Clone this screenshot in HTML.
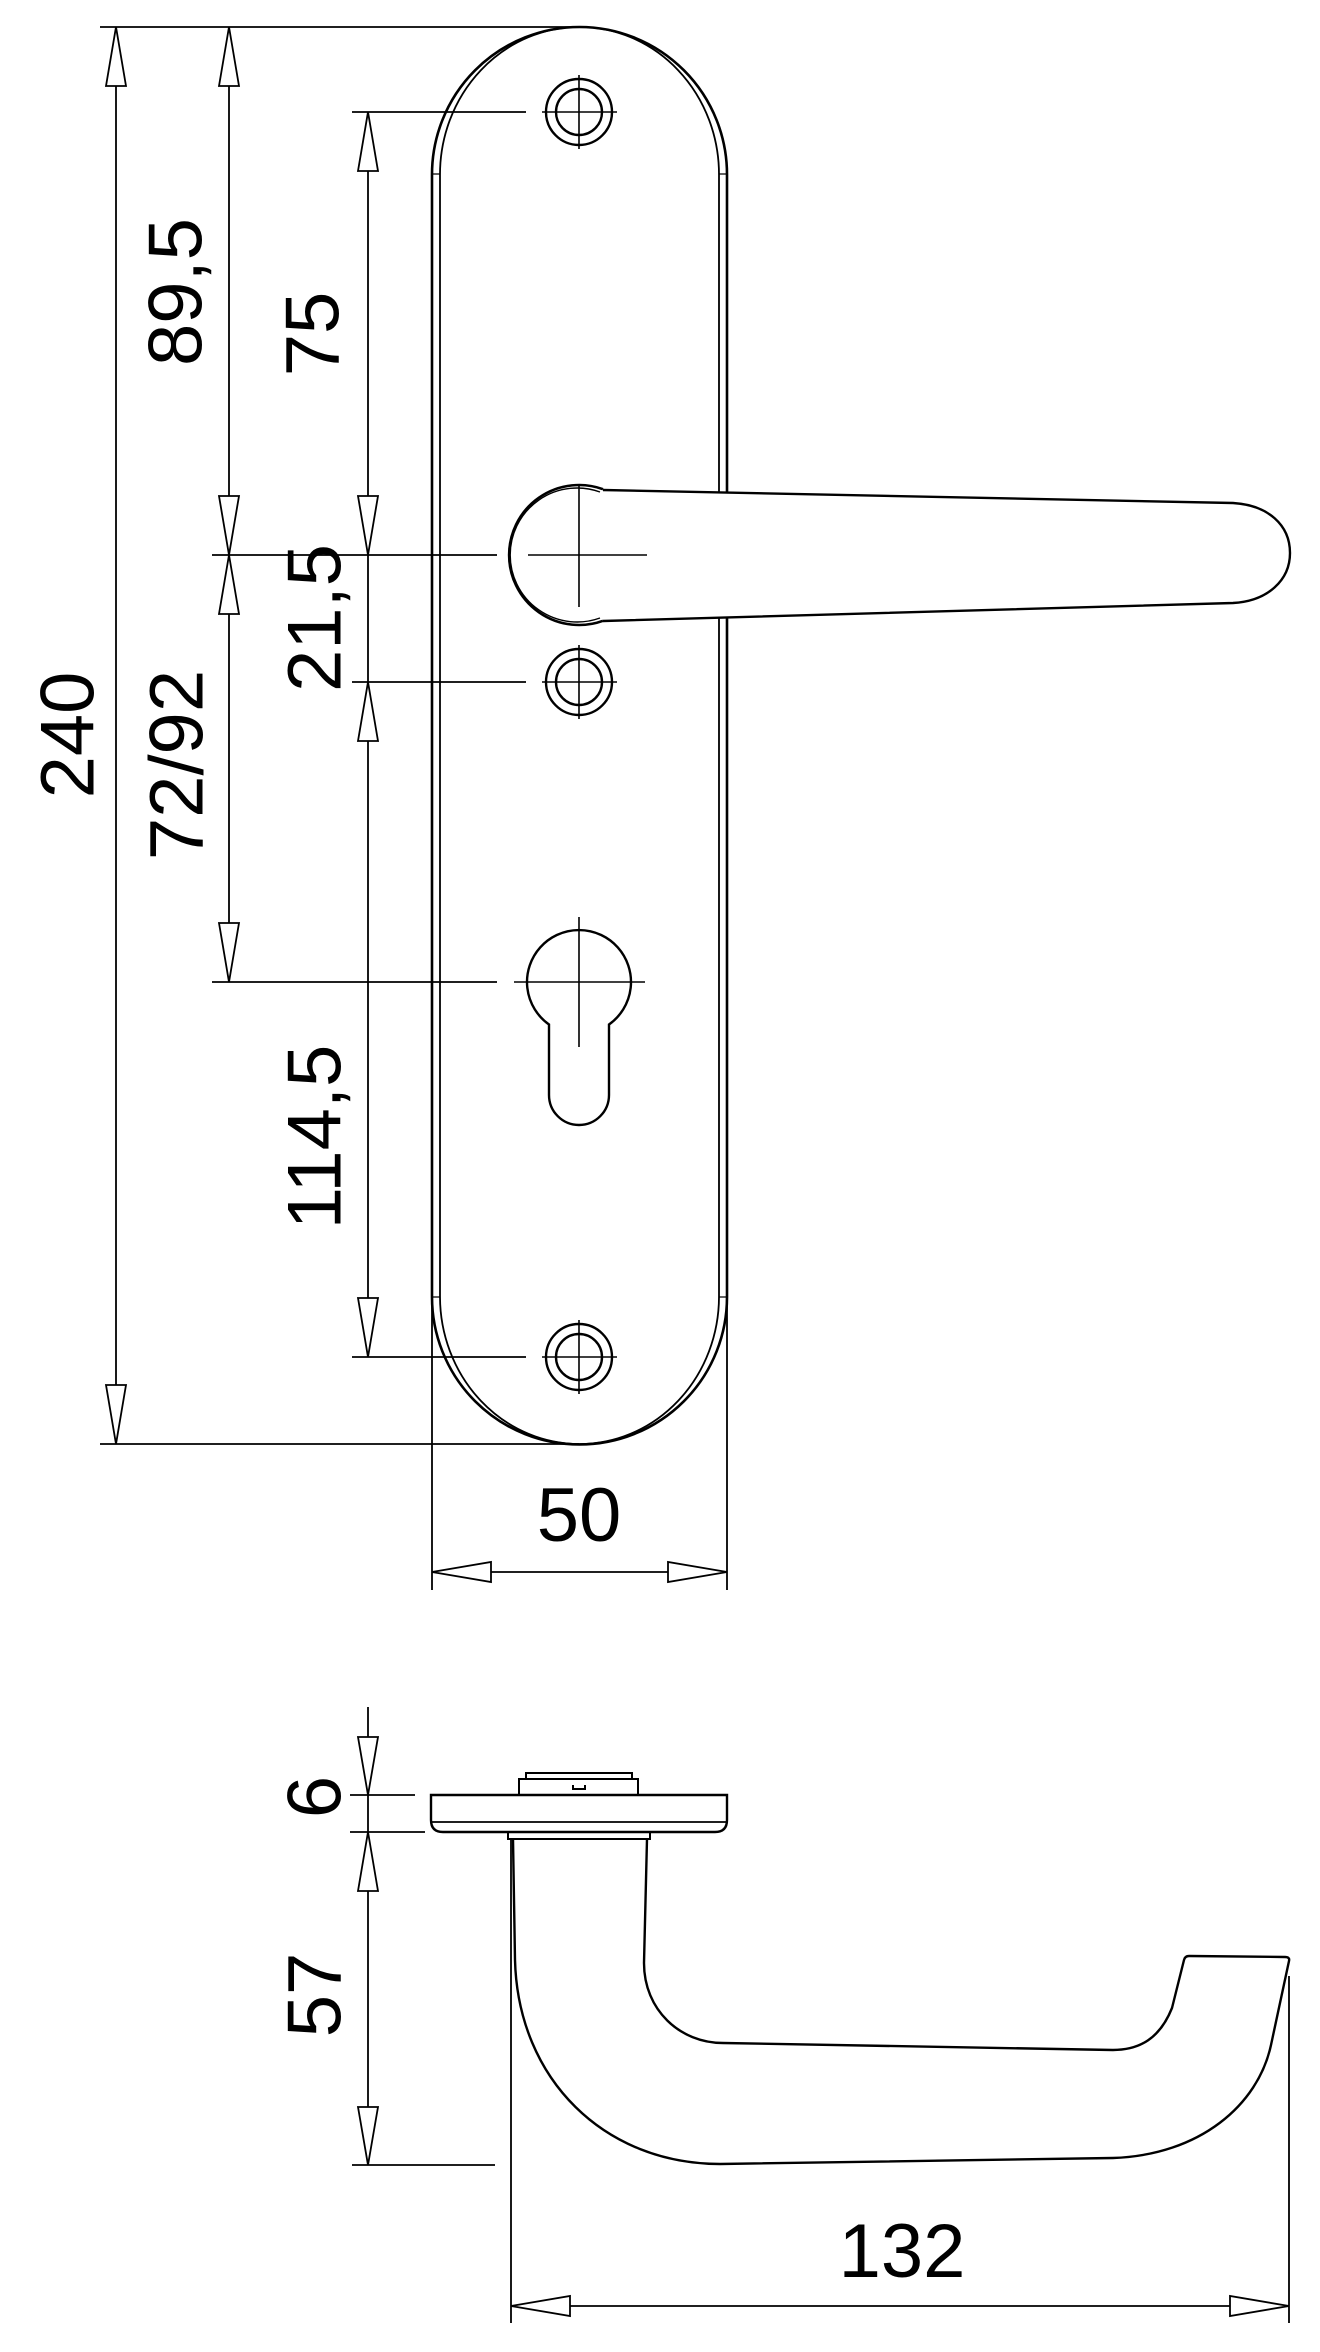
<!DOCTYPE html>
<html><head><meta charset="utf-8"><style>
html,body{margin:0;padding:0;background:#fff;}
svg{display:block;}
text{font-family:"Liberation Sans",sans-serif;font-size:76px;fill:#000;}
</style></head><body>
<svg width="1320" height="2352" viewBox="0 0 1320 2352" xmlns="http://www.w3.org/2000/svg">
<g fill="none" stroke="#000" stroke-width="2">
<!-- plate -->
<path d="M432,1297 L432,174.5 A147.5,147.5 0 0 1 727,174.5 L727,493 M727,617 L727,1297 A147.5,147.5 0 0 1 432,1297" stroke-width="2.6"/>
<path d="M440,174.5 A139.5,147.5 0 0 1 579.5,27 A139.5,147.5 0 0 1 719,174.5 L719,493 M719,617 L719,1297 A139.5,147.5 0 0 1 579.5,1444 A139.5,147.5 0 0 1 440,1297 M440,174.5 V1297" stroke-width="1.8"/>
<path d="M432,174 H440 M719,174 H727 M432,1297 H440 M719,1297 H727" stroke-width="1.2"/>
<!-- screw holes -->
<g stroke-width="2.4">
<circle cx="579" cy="112" r="33"/><circle cx="579" cy="112" r="23"/>
<circle cx="579" cy="682" r="33"/><circle cx="579" cy="682" r="23"/>
<circle cx="579" cy="1357" r="33"/><circle cx="579" cy="1357" r="23"/>
</g>
<g stroke-width="1.6">
<path d="M542,112 H617 M579,75 V149 M542,682 H617 M579,645 V719 M542,1357 H617 M579,1320 V1394"/>
<path d="M514,982 H645 M579,917 V1047"/>
<path d="M528,555 H647 M579,485 V607"/>
</g>
<!-- keyhole -->
<path d="M549,1024.5 A52,52 0 1 1 609,1024.5 L609,1095 A30,30 0 0 1 549,1095 Z" stroke-width="2.4"/>
<!-- handle front -->
<path d="M603,489.2 A70,70 0 1 0 603,620.8" stroke-width="2.6"/>
<path d="M600,492 A67,67 0 1 0 600,618" stroke-width="1.4"/>
<path d="M603,490 L1233,503 C1268,505 1290,525 1290,553 C1290,580 1268,601 1233,603 L603,621" stroke-width="2.4"/>

<!-- dimension lines -->
<g stroke-width="1.8">
<path d="M100,27 H579 M100,1444 H579"/>
<path d="M116,27 V1444"/>
<path d="M229,27 V982"/>
<path d="M212,555 H497 M212,982 H497"/>
<path d="M352,112 H526 M352,682 H526 M352,1357 H526"/>
<path d="M368,112 V1357"/>
<path d="M432,1297 V1590 M727,1297 V1590 M432,1572 H727"/>
<path d="M368,1707 V2165"/>
<path d="M350,1795 H415 M350,1832 H425 M352,2165 H495"/>
<path d="M511,1839 V2323 M1289,1976 V2323 M511,2306 H1289"/>
</g>

<!-- arrows -->
<g fill="#fff" stroke-width="1.8">
<path d="M116,27 L106,86 H126 Z"/>
<path d="M229,27 L219,86 H239 Z"/>
<path d="M229,555 L219,614 H239 Z"/>
<path d="M368,112 L358,171 H378 Z"/>
<path d="M368,682 L358,741 H378 Z"/>
<path d="M368,1832 L358,1891 H378 Z"/>
<path d="M116,1444 L106,1385 H126 Z"/>
<path d="M229,555 L219,496 H239 Z"/>
<path d="M229,982 L219,923 H239 Z"/>
<path d="M368,555 L358,496 H378 Z"/>
<path d="M368,1357 L358,1298 H378 Z"/>
<path d="M368,1795 L358,1737 H378 Z"/>
<path d="M368,2165 L358,2107 H378 Z"/>
<path d="M432,1572 L491,1562 V1582 Z"/>
<path d="M727,1572 L668,1562 V1582 Z"/>
<path d="M511,2306 L570,2296 V2316 Z"/>
<path d="M1289,2306 L1230,2296 V2316 Z"/>
</g>

<!-- bottom view handle -->
<path d="M431,1795 H727 V1820 Q727,1832 715,1832 H443 Q431,1832 431,1820 Z" stroke-width="2.4"/>
<path d="M431,1822 H727" stroke-width="1.8"/>
<path d="M519,1795 V1779 H638 V1795 M526,1779 V1773 H632 V1779 M573,1785 V1789 H585 V1785" stroke-width="2"/>
<path d="M508,1832 V1839 H650 V1832" stroke-width="2"/>
<path d="M513,1839 L515,1960 C518,2080 605,2164 720,2164 L1113,2158 C1200,2155 1258,2105 1271,2045 L1289,1961 Q1290,1957 1285,1957 L1189,1956 Q1185,1956 1184,1960 L1172,2008 C1160,2038 1140,2050 1113,2050 L723,2043 C680,2043 644,2010 644,1963 L647,1839" stroke-width="2.4"/>
</g>

<!-- labels -->
<g text-anchor="middle" dominant-baseline="central">
<text x="68" y="735" transform="rotate(-90 68 735)">240</text>
<text x="176" y="292" transform="rotate(-90 176 292)">89,5</text>
<text x="177" y="765" transform="rotate(-90 177 765)">72/92</text>
<text x="313" y="334" transform="rotate(-90 313 334)">75</text>
<text x="315" y="618" transform="rotate(-90 315 618)">21,5</text>
<text x="315" y="1137" transform="rotate(-90 315 1137)">114,5</text>
<text x="315" y="1797" transform="rotate(-90 315 1797)">6</text>
<text x="315" y="1995" transform="rotate(-90 315 1995)">57</text>
</g>
<text x="579" y="1541" text-anchor="middle">50</text>
<text x="902" y="2277" text-anchor="middle">132</text>
</svg>
</body></html>
